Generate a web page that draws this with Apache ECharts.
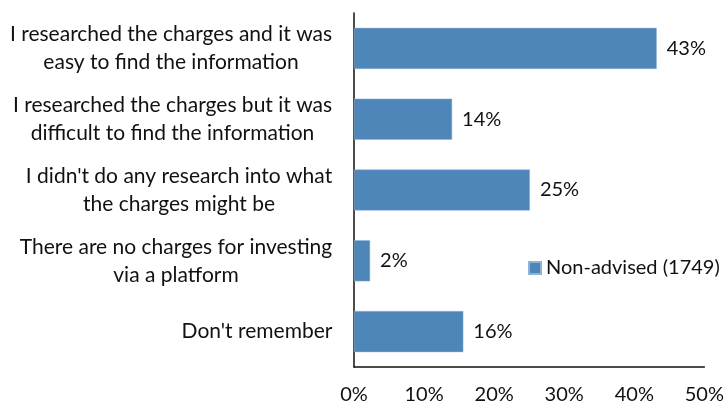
<!DOCTYPE html>
<html><head><meta charset="utf-8">
<script src="https://cdn.jsdelivr.net/npm/echarts@6/dist/echarts.min.js"></script>
<style>html,body{margin:0;padding:0;background:#fff}#c{width:727px;height:408px}</style>
</head><body><div id="c"></div>
<script>
var categories = [
  "I researched the charges and it was\neasy to find the information",
  "I researched the charges but it was\ndifficult to find the information",
  "I didn't do any research into what\nthe charges might be",
  "There are no charges for investing\nvia a platform",
  "Don't remember"
];
var values = [43.2, 14.0, 25.1, 2.3, 15.6];
var xTicks = [0, 10, 20, 30, 40, 50];
var seriesName = "Non-advised (1749)";

var FONT = "Lato";
var FS = 21;
var FS2 = 20;
var cv = document.createElement('canvas').getContext('2d');
cv.font = FS + 'px ' + FONT;
var rich = {};
categories.forEach(function (c, i) {
  var w = 0;
  c.split('\n').forEach(function (l) { w = Math.max(w, cv.measureText(l).width); });
  rich['l' + i] = { width: Math.ceil(w) + 1, align: 'center', fontFamily: FONT, fontSize: FS, color: '#111', lineHeight: 28 };
});

var chart = echarts.init(document.getElementById('c'));
chart.setOption({
  animation: false,
  textStyle: { fontFamily: FONT },
  grid: { left: 354, right: 20, top: 13, bottom: 41 },
  legend: {
    data: [seriesName], left: 528, top: 258, padding: 0, icon: 'rect', itemWidth: 12, itemHeight: 12, itemGap: 5,
    textStyle: { fontFamily: FONT, fontSize: FS2, color: '#111' }
  },
  xAxis: {
    type: 'value', min: 0, max: 50, interval: 10,
    axisLine: { show: true, lineStyle: { color: '#111', width: 1.5 } },
    axisTick: { show: false }, splitLine: { show: false },
    axisLabel: { margin: 18, fontFamily: FONT, fontSize: FS2, color: '#111', formatter: function (v) { return v + '%'; } }
  },
  yAxis: {
    type: 'category', inverse: true, data: categories,
    axisLine: { show: true, lineStyle: { color: '#111', width: 1.5 } },
    axisTick: { show: false },
    axisLabel: {
      margin: 21, align: 'right', rich: rich,
      formatter: function (v, i) {
        return v.split('\n').map(function (l) { return '{l' + i + '|' + l + '}'; }).join('\n');
      }
    }
  },
  series: [{
    name: seriesName, type: 'bar', data: values, barCategoryGap: '42%',
    itemStyle: { color: '#4F86BA', borderColor: '#8FB2D6', borderWidth: 0.5 },
    label: { show: true, position: 'right', distance: 10, fontFamily: FONT, fontSize: FS2, color: '#111',
      formatter: function (p) { return Math.round(p.value) + '%'; } }
  }]
});
</script></body></html>
